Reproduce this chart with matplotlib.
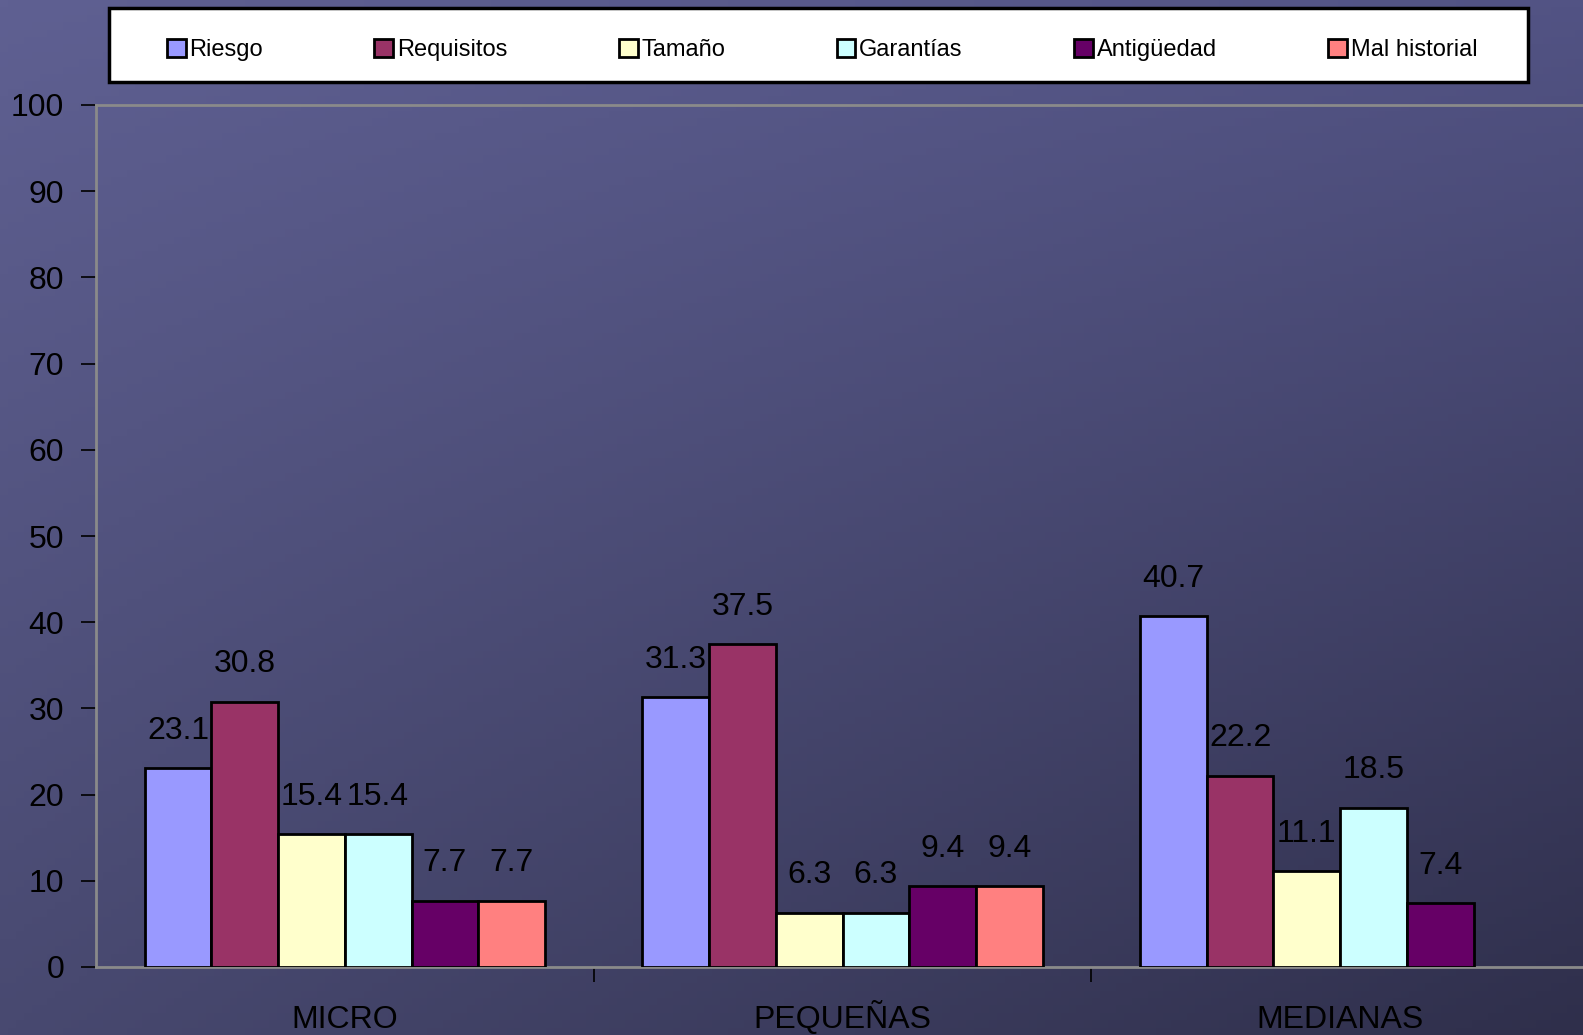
import numpy as np
import matplotlib
matplotlib.use("Agg")
import matplotlib.pyplot as plt
from matplotlib.patches import Rectangle, Patch

plt.rcParams['font.family'] = ['Liberation Sans', 'DejaVu Sans']

# Data
categories = ["MICRO", "PEQUEÑAS", "MEDIANAS"]
series = ["Riesgo", "Requisitos", "Tamaño", "Garantías", "Antigüedad", "Mal historial"]
riesgo = [23.1, 31.3, 40.7]
requisitos = [30.8, 37.5, 22.2]
tamano = [15.4, 6.3, 11.1]
garantias = [15.4, 6.3, 18.5]
antiguedad = [7.7, 9.4, 7.4]
mal_historial = [7.7, 9.4, np.nan]
values = [riesgo, requisitos, tamano, garantias, antiguedad, mal_historial]
colors = ["#9999FF", "#993366", "#FFFFCC", "#CCFFFF", "#660066", "#FF8080"]

fig = plt.figure(figsize=(15.83, 10.35), dpi=100)

# background gradient
bg = fig.add_axes([0, 0, 1, 1], zorder=-10)
xx, yy = np.meshgrid(np.linspace(0, 1, 200), np.linspace(0, 1, 140))
tl = np.array([0x5f, 0x60, 0x92]) / 255
tr = np.array([0x52, 0x53, 0x84]) / 255
bl = np.array([0x48, 0x49, 0x70]) / 255
br = np.array([0x2f, 0x2f, 0x4b]) / 255
img = ((1 - xx)[..., None] * (1 - yy)[..., None] * tl + xx[..., None] * (1 - yy)[..., None] * tr
       + (1 - xx)[..., None] * yy[..., None] * bl + xx[..., None] * yy[..., None] * br)
bg.imshow(img, aspect='auto', extent=[0, 1, 0, 1], origin='upper')
bg.axis('off')

ax = fig.add_axes([96 / 1583, 68 / 1035, 1493 / 1583, 862 / 1035])
ax.patch.set_alpha(0)

x = np.arange(len(categories))
w = 0.134
for i, (name, vals, c) in enumerate(zip(series, values, colors)):
    pos = x + (i - 2.5) * w
    ax.bar(pos, vals, width=w, color=c, edgecolor="black", linewidth=2, label=name, zorder=3)
    for p, v in zip(pos, vals):
        if not np.isnan(v):
            ax.annotate(f"{v:.1f}", (p, v), xytext=(0, 16), textcoords="offset points",
                        ha="center", va="bottom", fontsize=23, color="black", zorder=4)

ax.set_xlim(-0.5, 2.5)
ax.set_ylim(0, 100)
ax.set_yticks(range(0, 101, 10))
ax.set_xticks([0.5, 1.5], minor=False)
ax.set_xticks(x, minor=True)
ax.set_xticklabels([])
ax.set_xticklabels(categories, minor=True)
ax.tick_params(axis='x', which='minor', length=0, pad=44, labelsize=23)
for lbl in ax.get_xticklabels(minor=True):
    lbl.set_verticalalignment('baseline')
ax.tick_params(axis='x', which='major', length=11, width=1.2, direction='out', color='black')
ax.tick_params(axis='y', length=11, width=1.2, direction='out', color='black', pad=12, labelsize=23)

for s in ['left', 'bottom', 'top']:
    ax.spines[s].set_color('#8a8a8a')
    ax.spines[s].set_linewidth(2)
ax.spines['right'].set_visible(False)

# legend box
fig.patches.append(Rectangle((109 / 1583, 1 - 82 / 1035), (1528 - 109) / 1583, 74 / 1035,
                             transform=fig.transFigure, facecolor="white", edgecolor="black",
                             linewidth=2.5, zorder=5))
handles = [Patch(facecolor=c, edgecolor="black", linewidth=2) for c in colors]
leg = fig.legend(handles, series, loc="center", ncol=6, mode="expand",
                 bbox_to_anchor=(0.1053, 0.952 - 0.02, 0.9332 - 0.1053, 0.04),
                 frameon=False, fontsize=17, handlelength=0.8, handleheight=0.8,
                 handletextpad=0.15, borderpad=0, borderaxespad=0)
leg.set_zorder(6)

fig.savefig("out.png", dpi=100)
